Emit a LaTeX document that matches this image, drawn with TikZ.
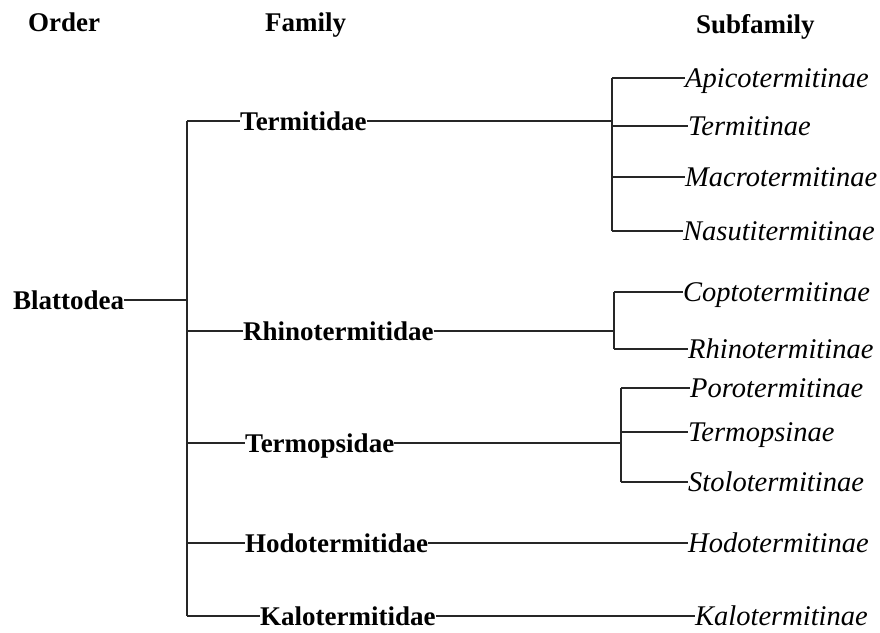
\documentclass[tikz,border=0pt]{standalone}
\usepackage{fontspec}
\setmainfont{Liberation Serif}
\usetikzlibrary{calc,positioning}
\tikzset{
    heading/.style={
        font=\bfseries\fontsize{27}{30}\selectfont,
        anchor=west,
        inner sep=0pt,
        text height=18pt,
        text depth=0pt
    },
    taxon/.style={heading},
    subtaxon/.style={
        font=\itshape\fontsize{28.5}{30}\selectfont,
        anchor=west,
        inner sep=0pt,
        text height=18pt,
        text depth=0pt
    },
    branch/.style={draw=black!85, line width=1.4pt}
}
\begin{document}
\begin{tikzpicture}[x=1pt,y=-1pt]
    \useasboundingbox (0,0) rectangle (880,632);
    % column headings
    \node[heading] (order) at (28,22) {Order};
    \node[heading] (family) at (265,22) {Family};
    \node[heading] (subfamily) at (696,24) {Subfamily};

    % order and families
    \node[taxon] (B) at (13,300) {Blattodea};
    \node[taxon] (F1) at (240,121) {Termitidae};
    \node[taxon] (F2) at (243,331) {Rhinotermitidae};
    \node[taxon] (F3) at (245,443) {Termopsidae};
    \node[taxon] (F4) at (245,543) {Hodotermitidae};
    \node[taxon] (F5) at (260,616) {Kalotermitidae};

    % subfamilies
    \node[subtaxon] (S11) at (685,78) {Apicotermitinae};
    \node[subtaxon] (S12) at (688,126) {Termitinae};
    \node[subtaxon] (S13) at (685,177) {Macrotermitinae};
    \node[subtaxon] (S14) at (683,231) {Nasutitermitinae};
    \node[subtaxon] (S21) at (683,292) {Coptotermitinae};
    \node[subtaxon] (S22) at (688,349) {Rhinotermitinae};
    \node[subtaxon] (S31) at (690,388) {Porotermitinae};
    \node[subtaxon] (S32) at (688,432) {Termopsinae};
    \node[subtaxon] (S33) at (688,482) {Stolotermitinae};
    \node[subtaxon] (S41) at (688,543) {Hodotermitinae};
    \node[subtaxon] (S51) at (695,616) {Kalotermitinae};

    % trunk
    \coordinate (trunk) at (187,0);
    \draw[branch] (trunk |- F1.west) -- (trunk |- F5.west);
    \draw[branch] (B.east) -- (trunk |- B.east);
    \foreach \f in {F1,F2,F3,F4,F5}
        \draw[branch] (trunk |- \f.west) -- (\f.west);

    % Termitidae
    \coordinate (j1) at (612,0);
    \draw[branch] (j1 |- S11.west) -- (j1 |- S14.west);
    \draw[branch] (F1.east) -- (j1 |- F1.east);
    \foreach \s in {S11,S12,S13,S14}
        \draw[branch] (j1 |- \s.west) -- (\s.west);

    % Rhinotermitidae
    \coordinate (j2) at (614,0);
    \draw[branch] (j2 |- S21.west) -- (j2 |- S22.west);
    \draw[branch] (F2.east) -- (j2 |- F2.east);
    \foreach \s in {S21,S22}
        \draw[branch] (j2 |- \s.west) -- (\s.west);

    % Termopsidae
    \coordinate (j3) at (621,0);
    \draw[branch] (j3 |- S31.west) -- (j3 |- S33.west);
    \draw[branch] (F3.east) -- (j3 |- F3.east);
    \foreach \s in {S31,S32,S33}
        \draw[branch] (j3 |- \s.west) -- (\s.west);

    % single subfamilies
    \draw[branch] (F4.east) -- (S41.west);
    \draw[branch] (F5.east) -- (S51.west);
\end{tikzpicture}
\end{document}
